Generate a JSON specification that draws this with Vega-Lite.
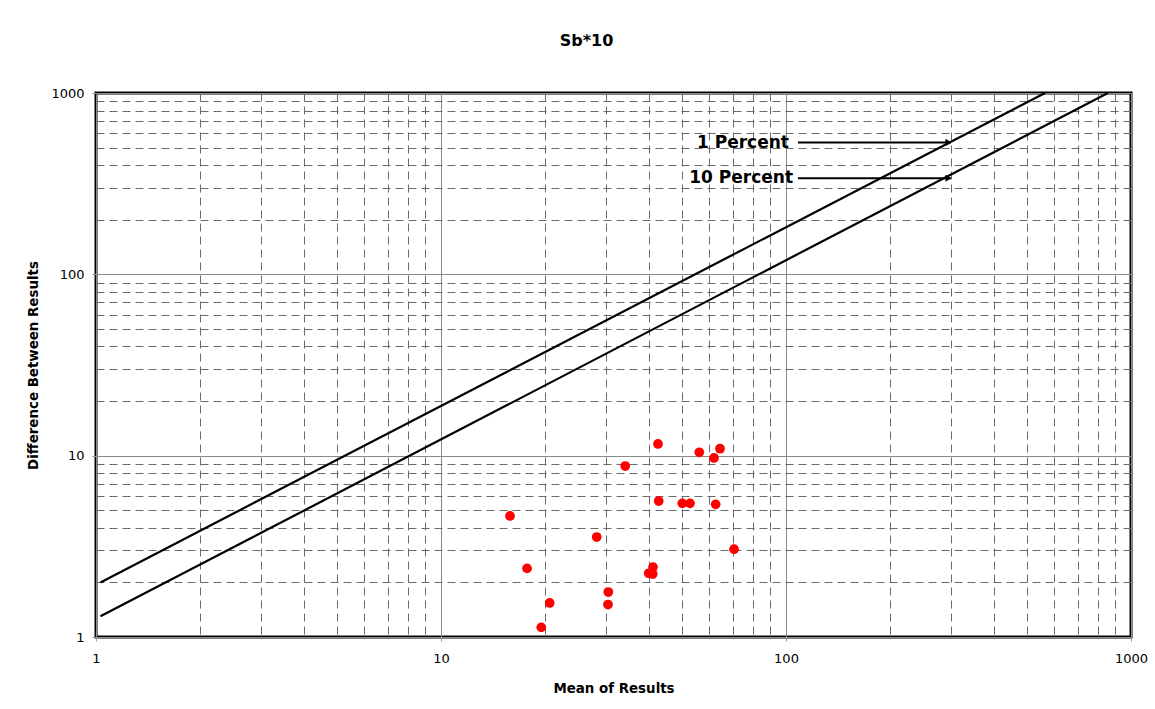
{
  "$schema": "https://vega.github.io/schema/vega-lite/v6.json",
  "width": 1035,
  "height": 544,
  "autosize": {"type": "none"},
  "padding": {"left": 96, "top": 93, "right": 24, "bottom": 72},
  "background": "white",
  "title": {
    "text": "Sb*10",
    "font": "DejaVu Sans",
    "fontSize": 16,
    "fontWeight": "bold",
    "color": "black",
    "anchor": "middle",
    "offset": 38,
    "dx": -27
  },
  "datasets": {
    "results": [
      {"mean": 15.85, "diff": 4.65},
      {"mean": 17.76, "diff": 2.39},
      {"mean": 19.53, "diff": 1.13},
      {"mean": 20.66, "diff": 1.54},
      {"mean": 28.27, "diff": 3.56},
      {"mean": 30.55, "diff": 1.77},
      {"mean": 30.48, "diff": 1.51},
      {"mean": 34.2, "diff": 8.77},
      {"mean": 40.0, "diff": 2.245},
      {"mean": 41.17, "diff": 2.43},
      {"mean": 41.09, "diff": 2.225},
      {"mean": 42.56, "diff": 11.6},
      {"mean": 42.76, "diff": 5.62},
      {"mean": 50.05, "diff": 5.46},
      {"mean": 52.69, "diff": 5.46},
      {"mean": 56.07, "diff": 10.44},
      {"mean": 61.84, "diff": 9.71},
      {"mean": 62.54, "diff": 5.39},
      {"mean": 64.37, "diff": 10.92},
      {"mean": 70.7, "diff": 3.05}
    ],
    "limits": [
      {"series": "1 Percent", "mean": 1.03, "diff": 2.0},
      {"series": "1 Percent", "mean": 563.6, "diff": 1000},
      {"series": "10 Percent", "mean": 1.03, "diff": 1.3},
      {"series": "10 Percent", "mean": 857, "diff": 1000}
    ],
    "labels": [
      {"text": "1 Percent", "mean": 102, "diff": 530},
      {"text": "10 Percent", "mean": 104.8, "diff": 340}
    ],
    "arrows": [
      {"series": "1 Percent", "start": 108.3, "end": 300, "head": 295.8, "diff": 534},
      {"series": "10 Percent", "start": 108.3, "end": 300, "head": 295.8, "diff": 339}
    ]
  },
  "layer": [
    {
      "data": {"name": "results"},
      "mark": {"type": "circle", "color": "#ff0000", "opacity": 1, "size": 95},
      "encoding": {
        "x": {
          "field": "mean",
          "type": "quantitative",
          "title": "Mean of Results",
          "scale": {"type": "log", "domain": [1, 1000], "nice": false},
          "axis": {
            "values": [1, 2, 3, 4, 5, 6, 7, 8, 9, 10, 20, 30, 40, 50, 60, 70, 80, 90, 100, 200, 300, 400, 500, 600, 700, 800, 900, 1000],
            "labelExpr": "indexof([1, 10, 100, 1000], datum.value) >= 0 ? format(datum.value, 'd') : ''",
            "gridColor": {"condition": {"test": "indexof([1, 10, 100, 1000], datum.value) >= 0", "value": "#8a8a8a"}, "value": "#6a6a6a"},
            "gridDash": {"condition": {"test": "indexof([1, 10, 100, 1000], datum.value) >= 0", "value": []}, "value": [8, 5]},
            "tickOpacity": {"condition": {"test": "indexof([1, 10, 100, 1000], datum.value) >= 0", "value": 1}, "value": 0},
            "labelPadding": 11,
            "titlePadding": 16
          }
        },
        "y": {
          "field": "diff",
          "type": "quantitative",
          "title": "Difference Between Results",
          "scale": {"type": "log", "domain": [1, 1000], "nice": false},
          "axis": {
            "values": [1, 2, 3, 4, 5, 6, 7, 8, 9, 10, 20, 30, 40, 50, 60, 70, 80, 90, 100, 200, 300, 400, 500, 600, 700, 800, 900, 1000],
            "labelExpr": "indexof([1, 10, 100, 1000], datum.value) >= 0 ? format(datum.value, 'd') : ''",
            "gridColor": {"condition": {"test": "indexof([1, 10, 100, 1000], datum.value) >= 0", "value": "#8a8a8a"}, "value": "#6a6a6a"},
            "gridDash": {"condition": {"test": "indexof([1, 10, 100, 1000], datum.value) >= 0", "value": []}, "value": [8, 5]},
            "tickOpacity": {"condition": {"test": "indexof([1, 10, 100, 1000], datum.value) >= 0", "value": 1}, "value": 0},
            "labelPadding": 8,
            "titlePadding": 10
          }
        }
      }
    },
    {
      "data": {"name": "limits"},
      "mark": {"type": "line", "color": "black", "strokeWidth": 2.2, "clip": true},
      "encoding": {
        "x": {"field": "mean", "type": "quantitative"},
        "y": {"field": "diff", "type": "quantitative"},
        "detail": {"field": "series"}
      }
    },
    {
      "data": {"name": "arrows"},
      "mark": {"type": "rule", "color": "black", "strokeWidth": 2},
      "encoding": {
        "x": {"field": "start", "type": "quantitative"},
        "x2": {"field": "end"},
        "y": {"field": "diff", "type": "quantitative"}
      }
    },
    {
      "data": {"name": "arrows"},
      "mark": {"type": "point", "shape": "triangle-right", "filled": true, "color": "black", "opacity": 1, "size": 50},
      "encoding": {
        "x": {"field": "head", "type": "quantitative"},
        "y": {"field": "diff", "type": "quantitative"}
      }
    },
    {
      "data": {"name": "labels"},
      "mark": {
        "type": "text",
        "align": "right",
        "baseline": "middle",
        "font": "DejaVu Sans",
        "fontSize": 17,
        "fontWeight": "bold",
        "color": "black"
      },
      "encoding": {
        "x": {"field": "mean", "type": "quantitative"},
        "y": {"field": "diff", "type": "quantitative"},
        "text": {"field": "text"}
      }
    }
  ],
  "config": {
    "view": {"stroke": "black", "strokeWidth": 3},
    "axis": {
      "domain": false,
      "grid": true,
      "gridWidth": 1,
      "ticks": true,
      "tickSize": 4,
      "tickColor": "#999999",
      "labelFont": "DejaVu Sans",
      "labelFontSize": 13,
      "labelColor": "black",
      "labelFlush": false,
      "labelOverlap": false,
      "labelBound": false,
      "titleFont": "DejaVu Sans",
      "titleFontSize": 13.4,
      "titleFontWeight": "bold",
      "titleColor": "black"
    }
  }
}
